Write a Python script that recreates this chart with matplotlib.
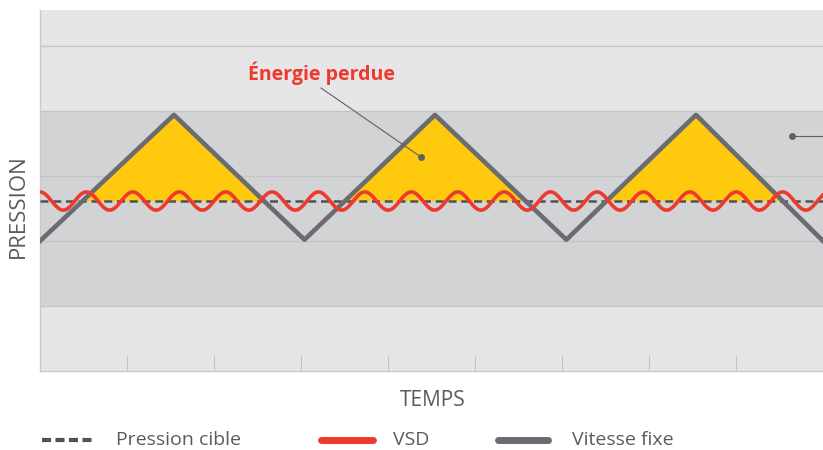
import numpy as np
import matplotlib.pyplot as plt
from matplotlib.lines import Line2D

plt.rcParams['font.family'] = ['Open Sans', 'DejaVu Sans']

# --- donnees (unites: graduations du temps, lignes de grille de pression) ---
temps_vitesse_fixe = [0, 1.54, 3.04, 4.54, 6.05, 7.54, 9]
pression_vitesse_fixe = [2.0, 3.94, 2.02, 3.94, 2.02, 3.94, 2.0]
pression_cible = 2.615
vsd_amplitude = 0.14
vsd_periode = 0.5335
temps_ticks = [1, 2, 3, 4, 5, 6, 7, 8]
pression_grille = [1, 2, 3, 4, 5]

ROUGE = '#EE3A2E'
GRIS = '#6B6C71'
GRIS_FONCE = '#505154'
JAUNE = '#FFC90E'
TEXTE = '#5A5B5E'

fig = plt.figure(figsize=(8.23, 4.5), dpi=100)
ax = fig.add_axes([40 / 823, 79 / 450, 783 / 823, 361 / 450])
ax.set_xlim(0, 9)
ax.set_ylim(0, 5.554)

# bandes de fond
ax.axhspan(0, 1, color='#E6E6E8', zorder=0, lw=0)
ax.axhspan(1, 4, color='#D2D3D5', zorder=0, lw=0)
ax.axhspan(4, 5.554, color='#E6E6E8', zorder=0, lw=0)
for g in pression_grille:
    ax.axhline(g, color='#C3C4C6', lw=1.0, zorder=1)

t = np.array(temps_vitesse_fixe)
p = np.array(pression_vitesse_fixe)
ax.fill_between(t, p, pression_cible, where=p >= pression_cible,
                interpolate=True, color=JAUNE, lw=0, zorder=2)

ax.axhline(pression_cible, color=GRIS_FONCE, lw=1.8, dashes=(3.2, 1.9), zorder=3)
ax.plot(t, p, color=GRIS, lw=3.3, solid_joinstyle='round', zorder=4)

tt = np.linspace(0, 9, 3000)
vsd = pression_cible + vsd_amplitude * np.cos(2 * np.pi * tt / vsd_periode)
ax.plot(tt, vsd, color=ROUGE, lw=2.6, zorder=5)

# annotations
ax.plot([3.23, 4.379], [4.354, 3.292], color='#5F6064', lw=0.8, zorder=6)
ax.plot([4.379], [3.292], 'o', color='#5F6064', ms=4, zorder=6)
ax.text(3.23, 4.585, 'Énergie perdue', color=ROUGE, fontsize=14,
        fontweight='bold', ha='center', va='center', zorder=6)
ax.plot([8.644, 9.2], [3.615, 3.615], color='#5F6064', lw=0.8, zorder=6)
ax.plot([8.644], [3.615], 'o', color='#5F6064', ms=4, zorder=6)

# axes
for s in ['top', 'right']:
    ax.spines[s].set_visible(False)
for s in ['left', 'bottom']:
    ax.spines[s].set_color('#C8C9CB')
    ax.spines[s].set_linewidth(1.0)
ax.set_xticks(temps_ticks)
ax.set_yticks([])
ax.tick_params(axis='x', direction='in', length=11.5, width=0.8,
               color='#C3C4C6', labelbottom=False)

fig.text(18 / 823, 1 - 206 / 450, 'PRESSION', rotation=90, ha='center',
         va='center', fontsize=16, color=TEXTE)
fig.text(433 / 823, 1 - 401 / 450, 'TEMPS', ha='center', va='center',
         fontsize=15, color=TEXTE)

# legende
y_leg = 1 - 440 / 450
fig.add_artist(Line2D([42 / 823, 92 / 823], [y_leg, y_leg], color=GRIS_FONCE,
                      lw=3.0, dashes=(2.16, 1.08)))
fig.text(116 / 823, y_leg, 'Pression cible', ha='left', va='center',
         fontsize=14, color=TEXTE)
fig.add_artist(Line2D([321 / 823, 373 / 823], [y_leg, y_leg], color=ROUGE,
                      lw=5, solid_capstyle='round'))
fig.text(393 / 823, y_leg, 'VSD', ha='left', va='center', fontsize=14,
         color=TEXTE)
fig.add_artist(Line2D([498 / 823, 548 / 823], [y_leg, y_leg], color=GRIS,
                      lw=5, solid_capstyle='round'))
fig.text(572 / 823, y_leg, 'Vitesse fixe', ha='left', va='center',
         fontsize=14, color=TEXTE)

fig.savefig('out.png', dpi=100, facecolor='white')
